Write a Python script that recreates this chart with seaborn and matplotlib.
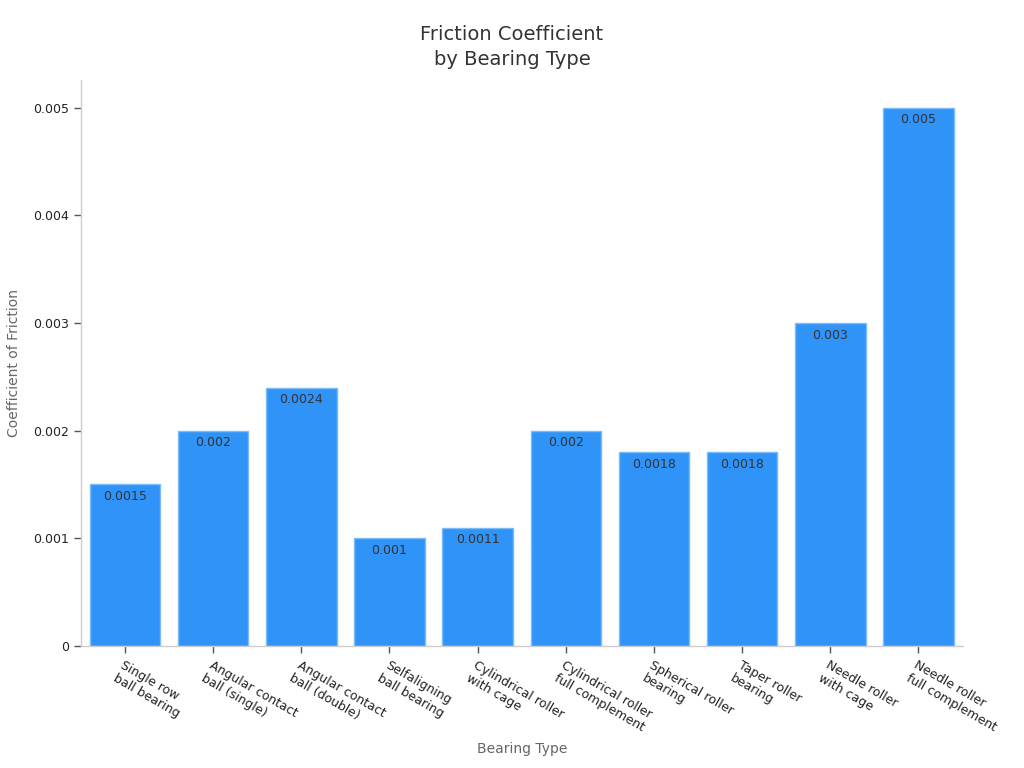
import matplotlib
matplotlib.use("Agg")
import matplotlib.pyplot as plt
from matplotlib.ticker import FuncFormatter
import seaborn as sns
import pandas as pd

bearing_types = [
    "Single row\nball bearing",
    "Angular contact\nball (single)",
    "Angular contact\nball (double)",
    "Selfaligning\nball bearing",
    "Cylindrical roller\nwith cage",
    "Cylindrical roller\nfull complement",
    "Spherical roller\nbearing",
    "Taper roller\nbearing",
    "Needle roller\nwith cage",
    "Needle roller\nfull complement",
]
friction = [0.0015, 0.002, 0.0024, 0.001, 0.0011, 0.002, 0.0018, 0.0018, 0.003, 0.005]
value_labels = ["0.0015", "0.002", "0.0024", "0.001", "0.0011", "0.002", "0.0018", "0.0018", "0.003", "0.005"]

df = pd.DataFrame({"type": bearing_types, "mu": friction})

sns.set_theme(style="white")
plt.rcParams["font.family"] = ["DejaVu Sans"]

BLUE = "#2f93f7"
EDGE = "#7cbcf9"

fig = plt.figure(figsize=(10.24, 7.68), dpi=100)
ax = fig.add_axes([0.079, 0.159, 0.861, 0.737])

sns.barplot(data=df, x="type", y="mu", color=BLUE, saturation=1, width=0.8,
            edgecolor=EDGE, linewidth=1, ax=ax)

ax.set_xlim(-0.5, len(bearing_types) - 0.5)
ax.set_ylim(0, 0.00526)
ax.set_yticks([0, 0.001, 0.002, 0.003, 0.004, 0.005])
ax.yaxis.set_major_formatter(FuncFormatter(lambda v, p: "0" if v == 0 else f"{v:.3f}"))

for bar, lab in zip(ax.patches, value_labels):
    ax.annotate(lab, (bar.get_x() + bar.get_width() / 2, bar.get_height()),
                xytext=(0, -4), textcoords="offset points",
                ha="center", va="top", fontsize=9, color="#333333")

for s in ["top", "right"]:
    ax.spines[s].set_visible(False)
for s in ["left", "bottom"]:
    ax.spines[s].set_color("#cccccc")
    ax.spines[s].set_linewidth(1)

ax.tick_params(axis="both", which="major", length=5, width=1, color="#555555",
               labelsize=9, labelcolor="#222222", bottom=True, left=True)
ax.tick_params(axis="x", pad=4)
plt.setp(ax.get_xticklabels(), rotation=-30, ha="left", va="top",
         rotation_mode="anchor", multialignment="left")

ax.set_xlabel("Bearing Type", fontsize=10, color="#666666", labelpad=6)
ax.set_ylabel("Coefficient of Friction", fontsize=10, color="#666666", labelpad=9)
fig.text(0.5, 0.968, "Friction Coefficient\nby Bearing Type", fontsize=14,
         color="#333333", ha="center", va="top", linespacing=1.45)

fig.savefig("out.png", dpi=100)
